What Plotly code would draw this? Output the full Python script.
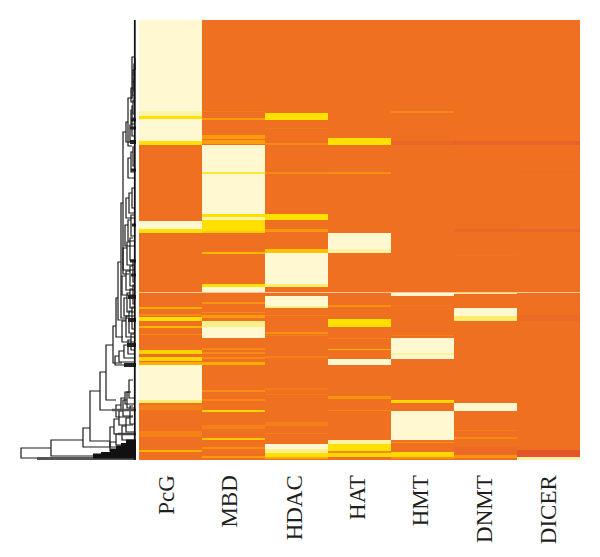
import numpy as np
import plotly.graph_objects as go

genes = ["PcG", "MBD", "HDAC", "HAT", "HMT", "DNMT", "DICER"]
label_positions = [-0.07, 0.94, 1.97, 2.97, 3.97, 4.99, 6.0]
n_rows = 440

# (first row, last row, level) per family; unlisted rows are background level 0
pcg = [(0,91,4),(91,96,3.7),(96,99,3),(99,121,4),(121,125,3),(201,209,4),(209,213,3),
       (287,289,2),(294,296,1),(297,301,3),(306,308,2.2),(314,315,1),
       (330,334,2.7),(337,341,2.8),(342,345,2),(345,380,4),(380,383,3.4),(385,390,0.6),
       (411,417,0.7),(430,432,2)]
mbd = [(91,92,0.4),(98,100,1.5),(115,119,1.5),(120,124,1.5),(125,152,4),(152,154,3.2),
       (154,194,4),(194,197,3),(197,200,3.7),(200,211,3),(211,213,2.6),(232,234,2.2),
       (264,267,3),(267,272,4),(282,284,1.3),(292,293,1),(295,298,1.5),(301,307,3.5),
       (307,318,4),(328,330,1),(332,334,1),(337,339,1),(342,345,2),(370,372,1.2),
       (379,381,1),(390,392,2.8),(405,409,0.7),(418,420,2.5),(427,429,1.2),(436,438,1.5)]
hdac = [(93,100,3),(108,109,0.4),(123,125,1),(152,154,1),(194,200,3),(209,212,1.4),
        (229,233,2.4),(233,264,4),(264,267,3.4),(276,286,4),(286,288,3.5),
        (295,296,0.6),(312,314,1.2),(315,316,0.6),(336,338,0.6),(368,370,0.5),(374,375,0.5),
        (402,406,0.6),(413,414,0.5),(424,429,4),(429,433,3.5),(433,437,3),(437,439,1.8)]
hat = [(118,125,3),(152,154,1.2),(213,229,4),(229,233,3.7),(285,287,1.2),
       (299,307,3),(318,319,0.7),(329,330,2.2),(339,345,4),(376,379,1.3),(390,391,1),
       (420,424,3.7),(424,431,3),(431,433,1),(433,437,2.8)]
hmt = [(91,93,1),(121,125,-0.6),(273,276,4),(285,286,0.3),(315,316,0.6),
       (318,333,4),(333,335,3.6),(335,339,4),(380,383,2.8),(391,420,4),(422,423,1.2),
       (432,437,2.8),(437,439,1.2)]
dnmt = [(121,125,-1),(209,212,-0.6),(235,236,0.2),(273,274,3.5),(288,296,4),(296,301,3.4),
        (383,391,4),(410,411,0.5),(417,419,1),(427,435,-0.5),(435,438,1.3)]
dicer = [(121,125,-1),(152,153,-0.3),(209,212,-0.8),(295,301,-0.5),
         (430,437,-1.4),(437,440,3.7)]
families = [pcg, mbd, hdac, hat, hmt, dnmt, dicer]

# dendrogram merges: height, top row, bottom row, height of top child, height of bottom child
merge_height = [115,85,53,46,36,30,23,20,18,15,13,10,8,4,
                26,22,17,13,9,
                20,15,11,7,
                26,20,14,10,6,
                21,17,12,8,5,
                14,10,7,4,
                12,9,6,3,
                14,10,6,3,
                13,9,6,
                11,8,5,
                10,7,4,
                8,5,3,
                6,4,
                5,4,3,
                5,3,2,
                3,2,1]
row_top = [428,420,408,371,352,325,306,278,242,183,112,102,78,37,
           407,399,391,380,372,
           385,378,372,360,
           422,414,406,398,386,
           336,331,325,320,314,
           301,296,291,287,
           278,273,269,265,
           256,251,246,241,
           228,222,218,
           205,200,195,
           178,173,168,
           138,132,127,
           105,98,
           90,86,80,
           68,62,58,
           50,44,38]
row_bottom = [438,436,427,421,390,380,343,317,300,298,254,122,126,78,
              427,414,405,396,388,
              397,390,384,378,
              431,425,420,412,404,
              345,342,338,334,330,
              322,317,313,309,
              296,292,288,284,
              275,270,266,262,
              250,245,240,
              226,221,216,
              198,193,188,
              158,152,146,
              122,116,
              104,99,94,
              82,76,71,
              62,56,50]
child_top = [85,53,46,36,30,23,20,18,15,13,10,8,4,2,
             22,17,13,9,5,
             15,11,7,3,
             20,14,10,6,3,
             17,12,8,5,2,
             10,7,4,2,
             9,6,3,2,
             10,6,3,2,
             9,6,3,
             8,5,2,
             7,4,2,
             5,3,2,
             4,2,
             4,3,2,
             3,2,1,
             2,1,1]
child_bottom = [0,0,26,26,21,20,14,13,10,8,7,6,4,2,
                3,3,3,3,2,
                3,3,2,2,
                3,3,2,2,2,
                2,2,2,2,2,
                2,2,2,2,
                2,2,2,2,
                2,2,2,2,
                2,2,2,
                2,2,2,
                2,2,2,
                2,2,2,
                2,2,
                2,2,1,
                2,1,1,
                1,1,1]

# heavy leaf bundles: height reached, row, stroke width, colour
bundle_height = [99,43,35,26,20,15,10,24,18,12,9,8,8,6,6,5,6,5,4,5]
bundle_row = [438.5,436,434,431,428,426,422,390,414,345,325,300,277,241,122,100,108,255,205,150]
bundle_width = [3,5,4,5,5,6,5,2.5,2.5,4,4,4,4,3,4,3,3,3,3,3]
bundle_color = ["#555555","#111111","#111111","#111111","#111111","#111111","#111111","#555555",
                "#444444","#222222","#222222","#222222","#222222","#222222","#222222","#222222",
                "#222222","#222222","#222222","#222222"]

z = np.zeros((n_rows, len(genes)))
for c, bands in enumerate(families):
    for first, last, level in bands:
        z[first:last, c] = level
# pale seam running across the whole panel
z[272:273, :] = 5

levels = [-1.5, -1, 0, 1, 2, 3, 3.5, 4, 5]
colors = ["#E4512A", "#E7632B", "#EE7020", "#F68A12", "#FBAF05", "#FFE000", "#FFF08A", "#FFF8D0", "#F9C79A"]
zmin, zmax = levels[0], levels[-1]
colorscale = [[(v - zmin) / (zmax - zmin), col] for v, col in zip(levels, colors)]

fig = go.Figure()
fig.add_trace(go.Heatmap(z=z, x=list(range(7)), y=np.arange(n_rows) + 0.5,
                         colorscale=colorscale, zmin=zmin, zmax=zmax,
                         showscale=False, hoverinfo="skip", zsmooth=False))

lx, ly = [], []
for h, t, b, ct, cb in zip(merge_height, row_top, row_bottom, child_top, child_bottom):
    lx += [ct, h, h, cb, None]
    ly += [t, t, b, b, None]
fig.add_trace(go.Scatter(x=lx, y=ly, mode="lines", xaxis="x2", yaxis="y",
                         line=dict(color="#1a1a1a", width=1.2), hoverinfo="skip"))
for h, r, w, col in zip(bundle_height, bundle_row, bundle_width, bundle_color):
    fig.add_trace(go.Scatter(x=[h, 0], y=[r, r], mode="lines", xaxis="x2", yaxis="y",
                             line=dict(color=col, width=w), hoverinfo="skip"))
fig.add_trace(go.Scatter(x=[1.2, 1.2], y=[0, n_rows], mode="lines", xaxis="x2", yaxis="y",
                         line=dict(color="#111111", width=1.8), hoverinfo="skip"))

# the page body adds an 8 px inset, so the figure is laid out 8 px smaller
PAGE_INSET = 8
W, H = 600 - PAGE_INSET, 557 - PAGE_INSET
def fx(px): return (px - PAGE_INSET) / W
def fy(px): return 1 - (px - PAGE_INSET) / H

fig.update_layout(
    width=W, height=H, autosize=False, showlegend=False,
    margin=dict(l=0, r=0, t=0, b=0),
    paper_bgcolor="white", plot_bgcolor="white",
    xaxis=dict(domain=[fx(139), fx(580)], range=[-0.5, 6.5], tickmode="array",
               tickvals=label_positions, ticktext=genes, tickangle=-90, showgrid=False,
               zeroline=False, ticks="outside", ticklen=5, tickcolor="rgba(0,0,0,0)",
               showline=False,
               tickfont=dict(family="Liberation Serif", size=23, color="#1f1f1f")),
    yaxis=dict(domain=[fy(460), fy(20)], range=[n_rows, 0], showticklabels=False,
               showgrid=False, zeroline=False, ticks=""),
    xaxis2=dict(domain=[fx(20), fx(136)], range=[116, 0], anchor="y", showticklabels=False,
                showgrid=False, zeroline=False, ticks=""),
)
fig.write_html("out.html")
